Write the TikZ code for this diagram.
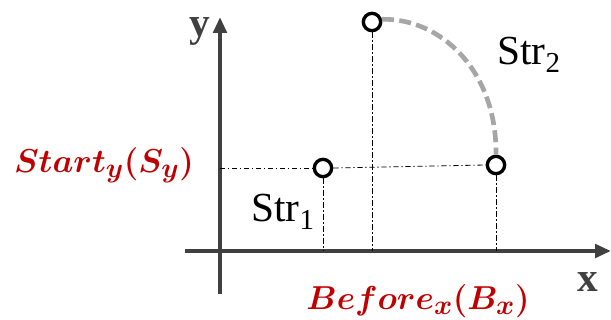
\documentclass[tikz,border=0pt]{standalone}
\usepackage{fontspec}
\setmainfont{Liberation Serif}
\usepackage{amsmath}
\usetikzlibrary{arrows.meta}
\definecolor{axisgray}{HTML}{404040}
\definecolor{curvegray}{HTML}{A6A6A6}
\definecolor{darkred}{HTML}{C00000}
\tikzset{axis/.style={draw=axisgray,line width=3pt,-{Triangle[length=12pt,width=10pt]}}, pt/.style={circle,draw=black,line width=2.5pt,fill=white,minimum size=13pt,inner sep=0pt}, guide/.style={draw=black,line width=0.6pt,dash pattern=on 4pt off 2pt on 1pt off 2pt}, arctwo/.style={draw=curvegray,line width=3.5pt,dash pattern=on 9pt off 4pt}, lbl/.style={anchor=base west,font=\fontsize{31}{36}\selectfont,inner sep=0pt}, axlbl/.style={anchor=base,text=axisgray,font=\fontsize{31}{36}\selectfont\bfseries,inner sep=0pt}, redlbl/.style={anchor=base,text=darkred,font=\fontsize{27.5}{32}\selectfont\boldmath,inner sep=0pt}}

\begin{document}
\begin{tikzpicture}[x=0.75pt,y=-0.75pt]
\useasboundingbox (0,0) rectangle (611,320);
\coordinate (o) at (220,251);
\coordinate (ys) at (220,168);
\draw[axis] (185,251) -- (611,251);
\draw[axis] (220,294) -- (220,17);
\node[pt] (str1) at (323,168){};
\node[pt] (top) at (372,22){};
\node[pt] (bend) at (496,165){};
\draw[guide] (ys) -- (str1.west);
\draw[guide] (str1.east) -- (bend.west);
\draw[guide] (str1.south) -- (str1 |- o);
\draw[guide] (top.south) -- (top |- o);
\draw[guide] (bend.south) -- (bend |- o);
\draw[arctwo] (top.15) .. controls (440,18) and (497,70) .. (bend.north);
\node[axlbl] (ylbl) at (200,37){y};
\node[axlbl] (xlbl) at (588,292){x};
\node[lbl] (s2) at (497,65){Str\textsubscript{2}};
\node[lbl] (s1) at (251,222){Str\textsubscript{1}};
\node[redlbl] (sy) at (104,173){$Start_y(S_y)$};
\node[redlbl] (bx) at (418,310){$Before_x(B_x)$};
\end{tikzpicture}
\end{document}
